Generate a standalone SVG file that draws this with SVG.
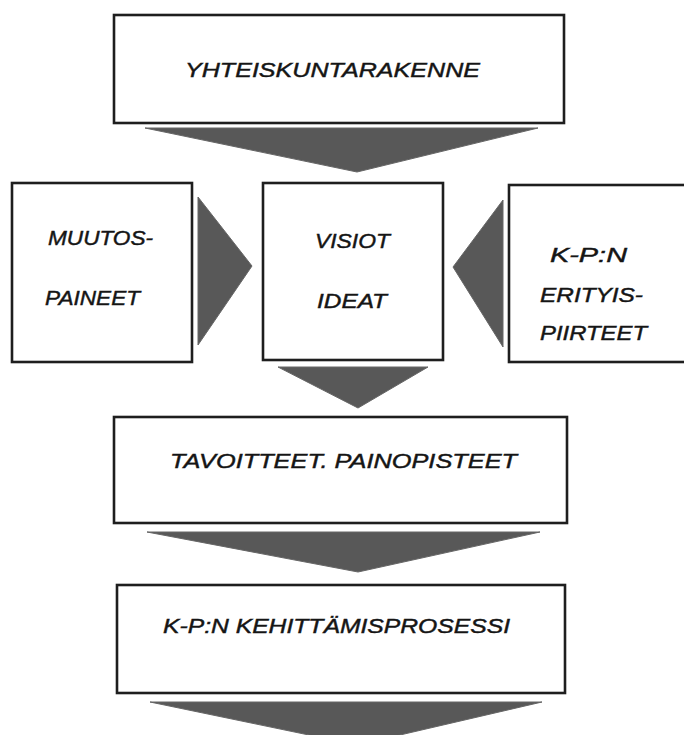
<svg xmlns="http://www.w3.org/2000/svg" width="684" height="735" viewBox="0 0 684 735">
<style>
.box{fill:#ffffff;stroke:#1e1e1e;stroke-width:2.6}
.lbl{font-family:"Liberation Sans",Arial,sans-serif;font-style:italic;fill:#151515;stroke:#151515;stroke-width:0.45;font-size:21px}
.arr{fill:#585858;stroke:#666666;stroke-width:1}
</style>
<rect width="684" height="735" fill="#ffffff"/>
<g id="connectors">
<polygon class="arr" points="145,128 538,128 357,172"/>
<polygon class="arr" points="198,197 252,266 198,345"/>
<polygon class="arr" points="503,200 453,267 503,347"/>
<polygon class="arr" points="278,367 428,367 358,408"/>
<polygon class="arr" points="147,532 540,532 358,572"/>
<polygon class="arr" points="150,702 542,702 357,745"/>
</g>
<g id="yhteiskuntarakenne">
<rect class="box" x="114" y="15" width="450" height="108"/>
<text class="lbl" x="185" y="77" font-size="21" textLength="295" lengthAdjust="spacingAndGlyphs">YHTEISKUNTARAKENNE</text>
</g>
<g id="muutospaineet">
<rect class="box" x="12" y="183" width="180" height="179"/>
<text class="lbl" x="48" y="245" font-size="19" textLength="105" lengthAdjust="spacingAndGlyphs">MUUTOS-</text>
<text class="lbl" x="45" y="305" font-size="19" textLength="95" lengthAdjust="spacingAndGlyphs">PAINEET</text>
</g>
<g id="visiot">
<rect class="box" x="263" y="183" width="180" height="177"/>
<text class="lbl" x="315" y="248" font-size="20" textLength="75" lengthAdjust="spacingAndGlyphs">VISIOT</text>
<text class="lbl" x="317" y="308" font-size="20" textLength="70" lengthAdjust="spacingAndGlyphs">IDEAT</text>
</g>
<g id="erityispiirteet">
<rect class="box" x="509" y="185" width="185" height="177"/>
<text class="lbl" x="550" y="262" font-size="18" textLength="77" lengthAdjust="spacingAndGlyphs">K-P:N</text>
<text class="lbl" x="540" y="302" font-size="18" textLength="103" lengthAdjust="spacingAndGlyphs">ERITYIS-</text>
<text class="lbl" x="540" y="340" font-size="18" textLength="107" lengthAdjust="spacingAndGlyphs">PIIRTEET</text>
</g>
<g id="tavoitteet">
<rect class="box" x="114" y="417" width="453" height="106"/>
<text class="lbl" x="170" y="468" font-size="21" textLength="347" lengthAdjust="spacingAndGlyphs">TAVOITTEET. PAINOPISTEET</text>
</g>
<g id="kehittamisprosessi">
<rect class="box" x="117" y="585" width="448" height="108"/>
<text class="lbl" x="163" y="633" font-size="21" textLength="347" lengthAdjust="spacingAndGlyphs">K-P:N KEHITTÄMISPROSESSI</text>
</g>
</svg>
